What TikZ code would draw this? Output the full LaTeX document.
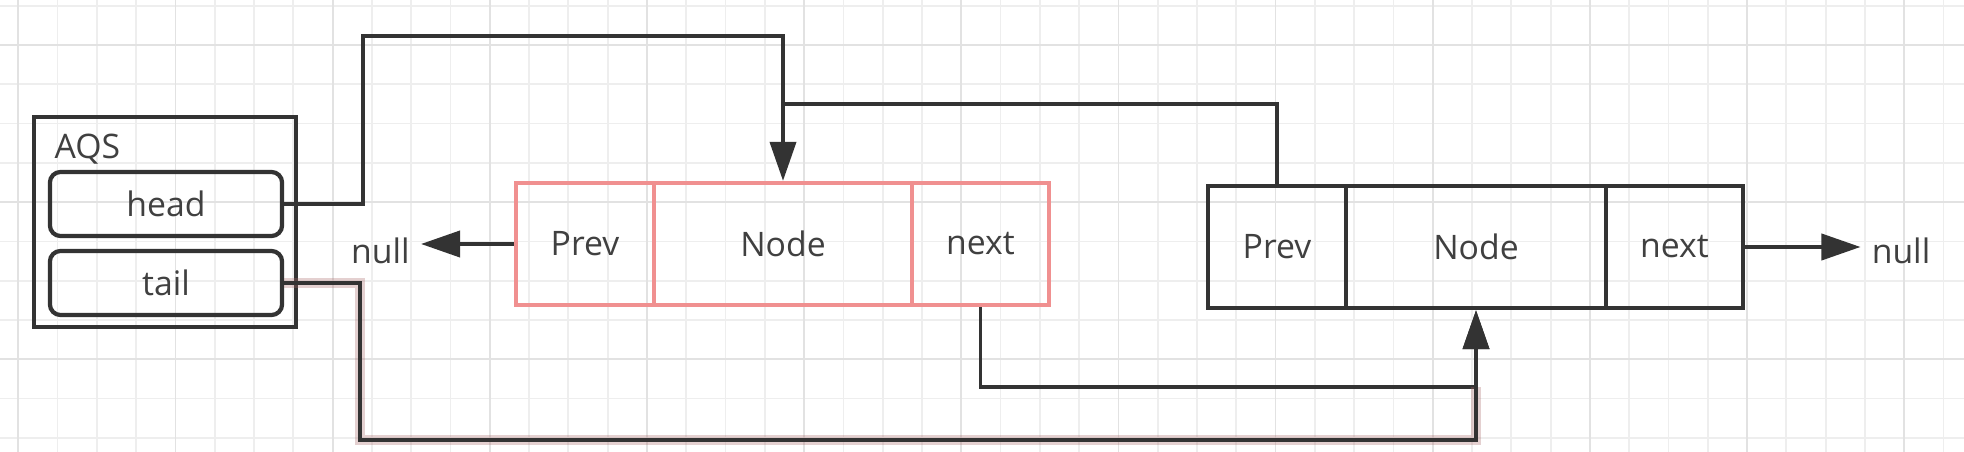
\documentclass[tikz,border=0pt]{standalone}
\usepackage{fontspec}
\setmainfont{Open Sans}
\usetikzlibrary{arrows.meta}
\definecolor{ink}{RGB}{51,51,51}
\definecolor{inktext}{RGB}{64,64,64}
\definecolor{rose}{RGB}{240,144,144}
\definecolor{gridminor}{RGB}{238,238,238}
\definecolor{gridmajor}{RGB}{226,226,226}
\newcommand{\lblfont}{\fontsize{9.6}{12}\selectfont}

\begin{document}
\begin{tikzpicture}[x=0.01cm,y=-0.01cm,
  cell/.style={draw=ink,line width=1.2pt,minimum height=1.22cm,inner sep=0pt,font=\lblfont,text=inktext},
  pinkcell/.style={cell,draw=rose},
  field/.style={draw=ink,line width=1.2pt,rounded corners=3pt,minimum width=2.32cm,minimum height=0.64cm,inner sep=0pt,font=\lblfont,text=inktext},
  plain/.style={font=\lblfont,text=inktext,inner sep=3pt},
  link/.style={draw=ink,line width=1.1pt},
  glow/.style={draw=rose!70!black,line width=2.6pt,opacity=0.3},
  tip/.style={-{Triangle[length=0.39cm,width=0.26cm]}}]

\useasboundingbox (0,0) rectangle (1964,452);
\fill[white] (0,0) rectangle (1964,452);

% grid
\foreach \i in {0,...,49}
  \draw[gridminor,line width=0.5pt] ({18.3+39.29*\i},0) -- ++(0,452);
\foreach \j in {0,...,11}
  \draw[gridminor,line width=0.5pt] (0,{5.7+39.29*\j}) -- ++(1964,0);
\foreach \i in {0,4,...,48}
  \draw[gridmajor,line width=0.5pt] ({18.3+39.29*\i},0) -- ++(0,452);
\foreach \j in {1,5,9}
  \draw[gridmajor,line width=0.5pt] (0,{5.7+39.29*\j}) -- ++(1964,0);

% AQS
\node[cell,minimum width=2.62cm,minimum height=2.10cm] (aqs) at (165,222) {};
\node[plain,anchor=west,inner sep=0pt] (aqsname) at (54,149) {AQS};
\node[field] (head) at (166,204) {head};
\node[field] (tail) at (166,283) {tail};

% first node
\node[pinkcell,minimum width=1.38cm] (prevA) at (585,244) {Prev};
\node[pinkcell,minimum width=2.58cm] (bodyA) at (783,244) {Node};
\node[pinkcell,minimum width=1.37cm] (nextA) at (980.5,244) {next};

% second node
\node[cell,minimum width=1.38cm] (prevB) at (1277,247) {Prev};
\node[cell,minimum width=2.60cm] (bodyB) at (1476,247) {Node};
\node[cell,minimum width=1.37cm] (nextB) at (1674.5,247) {next};

\node[plain] (nullA) at (380.5,251) {null};
\node[plain] (nullB) at (1901,251) {null};

\coordinate (headbend) at (363,36);
\coordinate (prevjoin) at (783,104);
\coordinate (nextbend) at (980.5,387);
\coordinate (tailbend) at (360,440);
\coordinate (tailjoin) at (1476,387);

\draw[link,tip] (head.east) -| (headbend) -| (bodyA.north);
\draw[link] (prevB.north) |- (prevjoin);

\draw[link,tip] (nextA.south) -- (nextbend) -| (bodyB.south);
\draw[glow] (tail.east) -| (tailbend) -| (tailjoin);
\draw[link,tip] (tail.east) -| (tailbend) -| (bodyB.south);

\draw[link,tip] (prevA.west) -- (prevA.west -| nullA.east);
\draw[link,tip] (nextB.east) -- (nextB.east -| nullB.west);

\end{tikzpicture}
\end{document}
